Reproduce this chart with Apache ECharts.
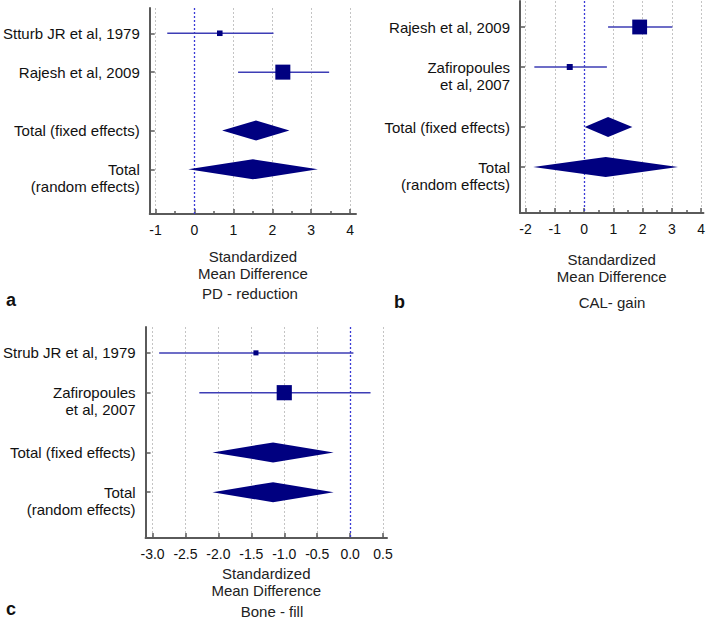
<!DOCTYPE html>
<html><head><meta charset="utf-8">
<script src="https://cdn.jsdelivr.net/npm/echarts@6/dist/echarts.min.js"></script>
<style>html,body{margin:0;padding:0;background:#fff}#c{width:708px;height:620px}</style>
</head><body><div id="c"></div>
<script>
// ---------- Panel a: PD - reduction ----------
const studiesA = ['Stturb JR et al, 1979', 'Rajesh et al, 2009'];
const estA = [0.65, 2.27];
const lowA = [-0.70, 1.12];
const highA = [2.03, 3.46];
const weightA = [12, 88];
const totalEstA = [1.58, 1.50];
const totalLowA = [0.71, -0.16];
const totalHighA = [2.44, 3.17];
const ticksA = [-1, 0, 1, 2, 3, 4];
const minorTicksA = [-0.5, 0.5, 1.5, 2.5, 3.5];

// ---------- Panel b: CAL- gain ----------
const studiesB = ['Rajesh et al, 2009', 'Zafiropoules\net al, 2007'];
const estB = [1.90, -0.49];
const lowB = [0.82, -1.70];
const highB = [3.02, 0.78];
const weightB = [86, 14];
const totalEstB = [0.82, 0.74];
const totalLowB = [0.02, -1.74];
const totalHighB = [1.65, 3.21];
const ticksB = [-2, -1, 0, 1, 2, 3, 4];
const minorTicksB = [-1.5, -0.5, 0.5, 1.5, 2.5, 3.5];

// ---------- Panel c: Bone - fill ----------
const studiesC = ['Strub JR et al, 1979', 'Zafiropoules\net al, 2007'];
const estC = [-1.43, -1.00];
const lowC = [-2.90, -2.29];
const highC = [0.05, 0.31];
const weightC = [10, 90];
const totalEstC = [-1.17, -1.17];
const totalLowC = [-2.09, -2.09];
const totalHighC = [-0.25, -0.25];
const ticksC = [-3.0, -2.5, -2.0, -1.5, -1.0, -0.5, 0.0, 0.5];

const totalLabels = ['Total (fixed effects)', 'Total\n(random effects)'];
const axisTitle = 'Standardized\nMean Difference';
const panelTitles = ['PD - reduction', 'CAL- gain', 'Bone - fill'];
const panelLetters = ['a', 'b', 'c'];

// ---------- styling / layout ----------
const FONT = "'Liberation Sans', Arial, sans-serif";
const NAVY = '#000080';
const CI = '#3d3db5';
const AXIS = '#5a5a5a';
const ROWS = [1, 2, 3.5, 4.5];

const chart = echarts.init(document.getElementById('c'), null, {renderer: 'svg'});

const grids = [
  {left: 145, top: 8, width: 211, height: 206},
  {left: 520, top: 1, width: 184, height: 212},
  {left: 145, top: 327, width: 242, height: 211}
];
const ranges = [[-1.15, 4.15], [-2.19, 4.08], [-3.106, 0.56]];
const nameGaps = [34, 38, 27];

function mainX(gi, ticks, fmt) {
  return {
    type: 'value', gridIndex: gi, min: ranges[gi][0], max: ranges[gi][1], position: 'bottom',
    axisLine: {show: true, onZero: false, lineStyle: {color: AXIS, width: 2}},
    axisTick: {show: true, inside: true, length: 5, customValues: ticks, lineStyle: {color: AXIS, width: 1.5}},
    axisLabel: {show: true, customValues: ticks, formatter: fmt, margin: 9, fontSize: 14, color: '#111', fontFamily: FONT},
    splitLine: {show: true, lineStyle: {color: '#c4c4c4', type: [2, 2], width: 1}},
    name: axisTitle, nameLocation: 'middle', nameGap: nameGaps[gi],
    nameTextStyle: {fontSize: 15, lineHeight: 17, color: '#222', fontFamily: FONT}
  };
}
function minorX(gi, ticks) {
  return {
    type: 'value', gridIndex: gi, min: ranges[gi][0], max: ranges[gi][1], position: 'bottom',
    axisLine: {show: false, onZero: false},
    axisTick: {show: ticks.length > 0, inside: true, length: 3, customValues: ticks.length ? ticks : [0], lineStyle: {color: AXIS, width: 1.5}},
    axisLabel: {show: false},
    splitLine: {show: false}
  };
}
function yAx(gi, labels) {
  return {
    type: 'value', gridIndex: gi, inverse: true, min: 0.35, max: 5.65,
    axisLine: {show: true, onZero: false, lineStyle: {color: AXIS, width: 2}},
    axisTick: {show: true, inside: true, length: 5, customValues: ROWS, lineStyle: {color: AXIS, width: 1.5}},
    axisLabel: {
      show: true, customValues: ROWS, margin: 10, fontSize: 15, lineHeight: 17, color: '#111', fontFamily: FONT, align: 'right',
      formatter: v => { const t = labels[ROWS.indexOf(v)] || ''; return t.indexOf('\n') >= 0 ? '\n' + t : t; }
    },
    splitLine: {show: false}
  };
}

function forestSeries(gi, est, lo, hi, w, tEst, tLo, tHi) {
  const data = [];
  est.forEach((e, i) => data.push([ROWS[i], e, lo[i], hi[i], w[i], 0]));
  tEst.forEach((e, i) => data.push([ROWS[2 + i], e, tLo[i], tHi[i], 0, 1]));
  return {
    type: 'custom', coordinateSystem: 'cartesian2d', xAxisIndex: gi * 2, yAxisIndex: gi, z: 3,
    encode: {x: [1, 2, 3], y: 0},
    renderItem: function (params, api) {
      const row = api.value(0), e = api.value(1), l = api.value(2), h = api.value(3), wt = api.value(4), kind = api.value(5);
      const pE = api.coord([e, row]), pL = api.coord([l, row]), pH = api.coord([h, row]);
      if (kind === 1) {
        const hh = 10;
        return {type: 'polygon', shape: {points: [[pL[0], pE[1]], [pE[0], pE[1] - hh], [pH[0], pE[1]], [pE[0], pE[1] + hh]]}, style: {fill: NAVY}};
      }
      const s = 16 * Math.sqrt(wt / 100);
      return {type: 'group', children: [
        {type: 'line', shape: {x1: pL[0], y1: pE[1], x2: pH[0], y2: pE[1]}, style: {stroke: CI, lineWidth: 1.5}},
        {type: 'rect', shape: {x: pE[0] - s / 2, y: pE[1] - s / 2, width: s, height: s}, style: {fill: NAVY}}
      ]};
    },
    markLine: {silent: true, symbol: 'none', z: 1, label: {show: false},
      lineStyle: {color: '#3a3ad6', type: [2, 2], width: 1.3}, data: [{xAxis: 0}]},
    data: data
  };
}

const fmtInt = v => String(v);
const fmtOne = v => v.toFixed(1);

const titleText = (x, y, text) => ({type: 'text', x: x, y: y,
  style: {text: text, fill: '#222', font: '15px ' + FONT, textAlign: 'center', textVerticalAlign: 'middle'}});
const letterText = (x, y, text) => ({type: 'text', x: x, y: y,
  style: {text: text, fill: '#111', font: 'bold 18px ' + FONT, textAlign: 'left', textVerticalAlign: 'middle'}});

chart.setOption({
  animation: false,
  grid: grids,
  xAxis: [mainX(0, ticksA, fmtInt), minorX(0, minorTicksA),
          mainX(1, ticksB, fmtInt), minorX(1, minorTicksB),
          mainX(2, ticksC, fmtOne), minorX(2, [])],
  yAxis: [yAx(0, studiesA.concat(totalLabels)), yAx(1, studiesB.concat(totalLabels)), yAx(2, studiesC.concat(totalLabels))],
  series: [
    forestSeries(0, estA, lowA, highA, weightA, totalEstA, totalLowA, totalHighA),
    forestSeries(1, estB, lowB, highB, weightB, totalEstB, totalLowB, totalHighB),
    forestSeries(2, estC, lowC, highC, weightC, totalEstC, totalLowC, totalHighC)
  ],
  graphic: [
    titleText(250, 293, panelTitles[0]),
    titleText(612, 302, panelTitles[1]),
    titleText(272, 611, panelTitles[2]),
    letterText(6, 300, panelLetters[0]),
    letterText(394, 302, panelLetters[1]),
    letterText(6, 609, panelLetters[2])
  ]
});
</script></body></html>
